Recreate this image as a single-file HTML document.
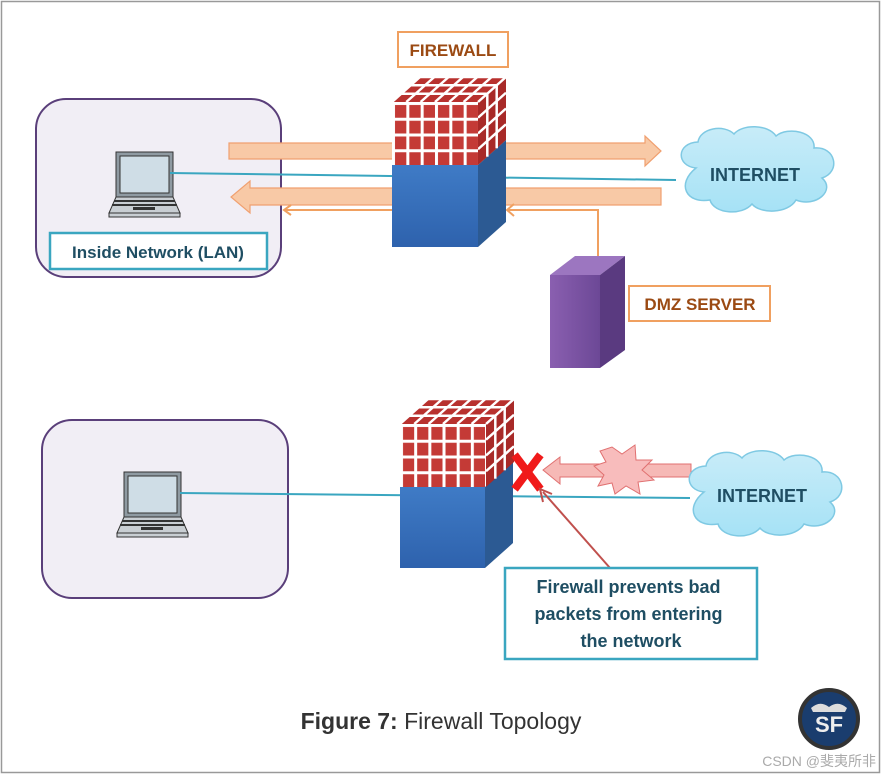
<!DOCTYPE html>
<html><head><meta charset="utf-8"><style>
html,body{margin:0;padding:0;background:#fff}
svg{display:block}
text{font-family:"Liberation Sans","Noto Sans CJK SC",sans-serif}
</style></head><body>
<svg width="883" height="776" viewBox="0 0 883 776" xmlns="http://www.w3.org/2000/svg">
<defs>
<pattern id="brk1" x="392" y="102" width="14.33" height="15.75" patternUnits="userSpaceOnUse">
<rect width="14.33" height="15.75" fill="#c43a36"/>
<rect x="0" y="0" width="3" height="15.75" fill="#fff"/>
<rect x="0" y="0" width="14.33" height="3" fill="#fff"/>
</pattern>
<pattern id="brk2" x="400" y="424" width="14.17" height="15.75" patternUnits="userSpaceOnUse">
<rect width="14.17" height="15.75" fill="#c43a36"/>
<rect x="0" y="0" width="3" height="15.75" fill="#fff"/>
<rect x="0" y="0" width="14.17" height="3" fill="#fff"/>
</pattern>
<linearGradient id="blue" x1="0" y1="0" x2="0" y2="1"><stop offset="0" stop-color="#3f7bc6"/><stop offset="1" stop-color="#2e62ad"/></linearGradient>
<linearGradient id="cloud" x1="0" y1="0" x2="0" y2="1"><stop offset="0" stop-color="#c8ecf8"/><stop offset="1" stop-color="#a6e2f6"/></linearGradient>
<linearGradient id="purp" x1="0" y1="0" x2="1" y2="0"><stop offset="0" stop-color="#8a5fb0"/><stop offset="1" stop-color="#6c4896"/></linearGradient>
<g id="laptop">
<rect x="0" y="0" width="57" height="45" fill="#8f9aa2" stroke="#333" stroke-width="1"/>
<rect x="4" y="4" width="49" height="37" fill="#cfdde6" stroke="#333" stroke-width="1"/>
<polygon points="0,45 57,45 64,61 -7,61" fill="#c9ced3" stroke="#333" stroke-width="1"/>
<line x1="-2" y1="49" x2="59" y2="49" stroke="#333" stroke-width="2"/>
<line x1="-4" y1="53" x2="61" y2="53" stroke="#333" stroke-width="2"/>
<rect x="17" y="55" width="22" height="3" fill="#333"/>
<rect x="-7" y="61" width="71" height="4" fill="#c9ced3" stroke="#333" stroke-width="1"/>
</g>
<g id="cloudshape">
<path d="M20,40 C0,38 0,15 22,14 C24,0 48,-4 58,6 C66,-4 92,-4 100,8 C112,-2 140,4 138,20 C160,18 165,44 146,50 C160,62 140,80 120,72 C112,86 84,86 76,76 C66,88 38,86 34,72 C10,76 0,56 20,40 Z" fill="url(#cloud)" stroke="#7fc9e3" stroke-width="1.5"/>
</g>
<g id="fwtop">
<!-- relative to front-top-left corner at 0,0; front 86 wide, top offset 28,-25 -->
<polygon points="0,0 28,-25 114,-25 86,0" fill="#b8312e"/>
<g stroke="#fff" stroke-width="2.5">
<line x1="0" y1="0" x2="28" y2="-25"/><line x1="14.3" y1="0" x2="42.3" y2="-25"/><line x1="28.6" y1="0" x2="56.6" y2="-25"/><line x1="43" y1="0" x2="71" y2="-25"/><line x1="57.3" y1="0" x2="85.3" y2="-25"/><line x1="71.6" y1="0" x2="99.6" y2="-25"/>
<line x1="9.3" y1="-8.3" x2="95.3" y2="-8.3"/><line x1="18.7" y1="-16.7" x2="104.7" y2="-16.7"/><line x1="28" y1="-25" x2="114" y2="-25"/>
</g>
<polygon points="86,0 114,-25 114,38 86,63" fill="#a82a28"/>
<g stroke="#fff" stroke-width="2.5">
<line x1="86" y1="15.75" x2="114" y2="-9.25"/><line x1="86" y1="31.5" x2="114" y2="6.5"/><line x1="86" y1="47.25" x2="114" y2="22.25"/><line x1="86" y1="0" x2="114" y2="-25"/>
<line x1="95.3" y1="-8.3" x2="95.3" y2="54.7"/><line x1="104.7" y1="-16.7" x2="104.7" y2="46.3"/>
</g>
</g>
</defs>
<rect x="1.5" y="1.5" width="878" height="771" fill="#fff" stroke="#999" stroke-width="1.5"/>

<!-- TOP -->
<rect x="36" y="99" width="245" height="178" rx="30" fill="#f1eef5" stroke="#5a3f7a" stroke-width="2"/>
<use href="#laptop" x="116" y="152"/>
<rect x="50" y="233" width="217" height="36" fill="#fff" stroke="#3aa6c0" stroke-width="2.5"/>
<text x="158" y="258" font-size="17" font-weight="bold" fill="#1f4e63" text-anchor="middle">Inside Network (LAN)</text>

<polygon points="229,143 645,143 645,136 661,151 645,166 645,159 229,159" fill="#f8c9a6" stroke="#f0a070" stroke-width="1.2"/>
<polygon points="661,188 250,188 250,181 231,197 250,213 250,205 661,205" fill="#f8c9a6" stroke="#f0a070" stroke-width="1.2"/>
<line x1="170" y1="173" x2="676" y2="180" stroke="#3aa6c0" stroke-width="2"/>
<polyline points="284,210 392,210" fill="none" stroke="#f0a060" stroke-width="2"/>
<polyline points="291,205 284,210 291,215" fill="none" stroke="#f0a060" stroke-width="2"/>
<polyline points="598,258 598,210 507,210" fill="none" stroke="#f0a060" stroke-width="2"/>
<polyline points="514,204 507,210 514,216" fill="none" stroke="#f0a060" stroke-width="2"/>

<!-- firewall 1 -->
<polygon points="478,165 506,140 506,222 478,247" fill="#2c5a93"/>
<rect x="392" y="165" width="86" height="82" fill="url(#blue)"/>
<use href="#fwtop" x="392" y="102"/>
<rect x="392" y="102" width="86" height="63" fill="url(#brk1)"/>
<rect x="398" y="32" width="110" height="35" fill="#fff" stroke="#f0a060" stroke-width="2"/>
<text x="453" y="56" font-size="17" font-weight="bold" fill="#9b4a13" text-anchor="middle">FIREWALL</text>

<use href="#cloudshape" x="676" y="128"/>
<text x="755" y="181" font-size="18" font-weight="bold" fill="#1f4e63" text-anchor="middle">INTERNET</text>

<!-- DMZ -->
<polygon points="550,275 575,256 625,256 600,275" fill="#9c76c0"/>
<polygon points="600,275 625,256 625,350 600,368" fill="#5a3a80"/>
<rect x="550" y="275" width="50" height="93" fill="url(#purp)"/>
<rect x="629" y="286" width="141" height="35" fill="#fff" stroke="#f0a060" stroke-width="2"/>
<text x="700" y="310" font-size="17" font-weight="bold" fill="#9b4a13" text-anchor="middle">DMZ SERVER</text>

<!-- BOTTOM -->
<rect x="42" y="420" width="246" height="178" rx="30" fill="#f1eef5" stroke="#5a3f7a" stroke-width="2"/>
<use href="#laptop" x="124" y="472"/>
<line x1="180" y1="493" x2="690" y2="498" stroke="#3aa6c0" stroke-width="2"/>

<polygon points="485,487 513,462 513,543 485,568" fill="#2c5a93"/>
<rect x="400" y="487" width="85" height="81" fill="url(#blue)"/>
<use href="#fwtop" x="400" y="424"/>
<rect x="400" y="424" width="85" height="63" fill="url(#brk2)"/>

<polygon points="691,464 560,464 560,457 543,470 560,484 560,477 691,477" fill="#f6b9b6" stroke="#e07070" stroke-width="1"/>
<polygon points="612,447 622,454 635,445 636,460 652,460 642,470 654,480 638,482 640,494 626,486 615,494 612,483 598,486 604,475 594,466 606,462 600,451" fill="#f8bcbc" stroke="#e07070" stroke-width="1"/>
<g stroke="#f01a1a" stroke-width="8" stroke-linecap="square">
<line x1="517" y1="458" x2="538" y2="486"/>
<line x1="538" y1="458" x2="517" y2="486"/>
</g>
<line x1="610" y1="568" x2="543" y2="492" stroke="#c0504d" stroke-width="2"/>
<polyline points="543,502 540,489 552,494" fill="none" stroke="#c0504d" stroke-width="2"/>

<use href="#cloudshape" x="684" y="452"/>
<text x="762" y="502" font-size="18" font-weight="bold" fill="#1f4e63" text-anchor="middle">INTERNET</text>

<rect x="505" y="568" width="252" height="91" fill="#fff" stroke="#3aa6c0" stroke-width="2.5"/>
<text font-size="18" font-weight="bold" fill="#1f4e63" text-anchor="middle">
<tspan x="631" y="593">Firewall prevents bad</tspan>
<tspan x="631" y="620">packets from entering</tspan>
<tspan x="631" y="647">the network</tspan>
</text>

<text x="441" y="729" font-size="23" fill="#333" text-anchor="middle"><tspan font-weight="bold">Figure 7:</tspan>  Firewall Topology</text>

<circle cx="829" cy="719" r="29" fill="#1a3d6e" stroke="#333" stroke-width="4"/>
<text x="829" y="732" font-size="22" font-weight="bold" fill="#eee" text-anchor="middle">SF</text>
<path d="M811,708 Q820,700 829,707 Q838,700 847,708 L845,712 L813,712 Z" fill="#ddd"/>
<text x="876" y="766" font-size="14" fill="#aaa" text-anchor="end">CSDN @斐夷所非</text>
</svg>
</body></html>
